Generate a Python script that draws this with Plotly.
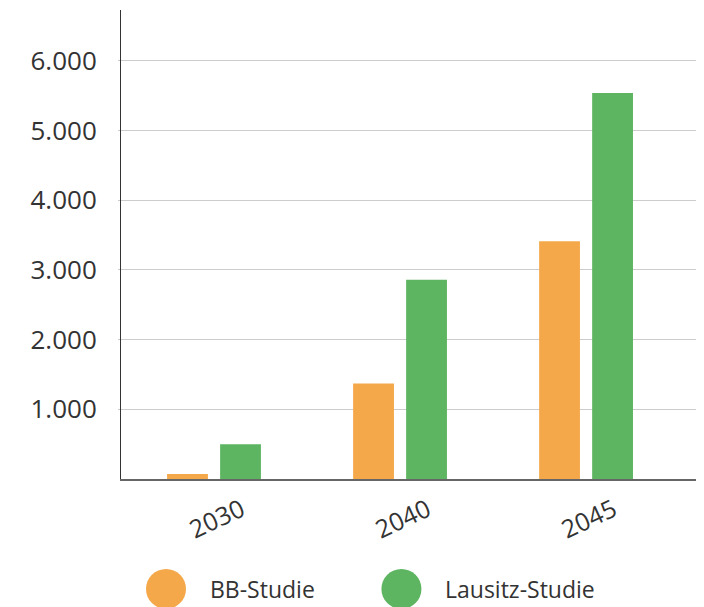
import plotly.graph_objects as go

years = ["2030", "2040", "2045"]
bb_studie = [70, 1370, 3410]
lausitz_studie = [500, 2860, 5540]
y_ticks = [1000, 2000, 3000, 4000, 5000, 6000]
series_names = ["BB-Studie", "Lausitz-Studie"]

orange = "#F5A84A"
green = "#5DB561"
font_family = "Open Sans"

fig = go.Figure()
fig.add_trace(go.Bar(x=years, y=bb_studie, name=series_names[0],
                     marker=dict(color=orange, line=dict(width=0))))
fig.add_trace(go.Bar(x=years, y=lausitz_studie, name=series_names[1],
                     marker=dict(color=green, line=dict(width=0))))

annotations = []
for i, yr in enumerate(years):
    annotations.append(dict(x=i, y=0, xref="x", yref="paper", text=yr,
                            showarrow=False, textangle=-25,
                            xanchor="center", yanchor="middle",
                            xshift=2, yshift=-39,
                            font=dict(family=font_family, size=25, color="#333333")))

# custom legend
leg_y = -0.2345
shapes = []
legend_items = [(0.0772, 0.1492, orange, series_names[0]),
                (0.4810, 0.5523, green, series_names[1])]
for cx, tx, col, name in legend_items:
    shapes.append(dict(type="circle", xref="paper", yref="paper",
                       xsizemode="pixel", ysizemode="pixel",
                       xanchor=cx, yanchor=leg_y,
                       x0=-20, x1=20, y0=-20, y1=20,
                       fillcolor=col, line=dict(width=0), layer="above"))
    annotations.append(dict(x=tx, y=leg_y, xref="paper", yref="paper",
                            text=name, showarrow=False, xanchor="left",
                            yanchor="middle",
                            font=dict(family=font_family, size=23, color="#333333")))

fig.update_layout(
    width=696, height=599,
    margin=dict(l=113, r=0, t=2, b=128),
    paper_bgcolor="white", plot_bgcolor="white",
    separators=",.",
    barmode="group", bargap=0.43, bargroupgap=0.23,
    showlegend=False,
    font=dict(family=font_family, color="#333333"),
    xaxis=dict(type="category", range=[-0.5, 2.634], showticklabels=False,
               showgrid=False, showline=True, linecolor="#666666", linewidth=1.5,
               ticks="", zeroline=False, fixedrange=True),
    yaxis=dict(range=[0, 6730], tickvals=y_ticks, tickformat=",d",
               showgrid=True, gridcolor="#cccccc", gridwidth=1,
               showline=True, linecolor="#333333", linewidth=1,
               ticks="outside", ticklen=2, tickcolor="#cccccc",
               ticklabelstandoff=16, zeroline=False,
               tickfont=dict(family=font_family, size=26, color="#333333")),
    annotations=annotations,
    shapes=shapes,
)

fig.write_html("out.html")
